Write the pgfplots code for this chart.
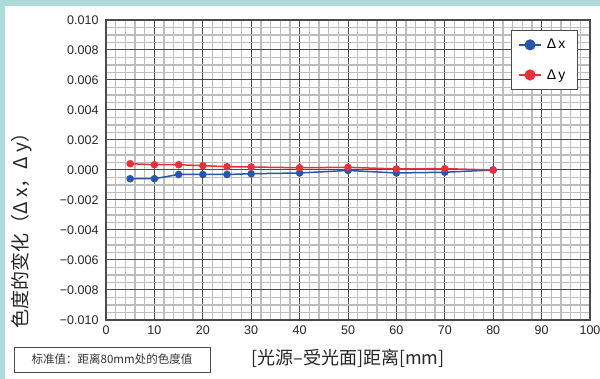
\documentclass[border=0pt]{standalone}
\usepackage{pgfplots}
\pgfplotsset{compat=1.18}
\usepackage{fontspec}
\setmainfont{Liberation Sans}
\newfontfamily\cjk{Noto Sans CJK SC}
\definecolor{teal1}{HTML}{ADDCD8}
\definecolor{bl}{HTML}{2857A8}
\definecolor{rd}{HTML}{E8303A}
\definecolor{majg}{HTML}{4A4A4A}
\definecolor{ming}{HTML}{BDBDBD}
\begin{document}
\begin{tikzpicture}
\useasboundingbox (-106pt,-59pt) rectangle (494pt,320pt);
\fill[white] (-106pt,-59pt) rectangle (494pt,320pt);
\fill[teal1] (-106pt,-59pt) rectangle (-101pt,320pt);
\fill[teal1] (-106pt,314pt) rectangle (494pt,320pt);
\begin{axis}[
  at={(0pt,0pt)}, anchor=south west,
  scale only axis, width=484pt, height=300pt,
  xmin=0, xmax=100, ymin=-0.01, ymax=0.01,
  xtick={0,10,...,100},
  ytick={-0.01,-0.008,-0.006,-0.004,-0.002,0,0.002,0.004,0.006,0.008,0.01},
  yticklabels={−0.010,−0.008,−0.006,−0.004,−0.002,0.000,0.002,0.004,0.006,0.008,0.010},
  scaled y ticks=false,
  minor x tick num=4, minor y tick num=3,
  grid=both,
  major grid style={draw=majg, line width=1pt},
  minor grid style={draw=ming, line width=1.3pt},
  major tick length=0pt, minor tick length=0pt,
  axis line style={draw=majg, line width=1.3pt},
  tick label style={font=\fontsize{12.5}{14}\selectfont, text=black!85},
  /pgf/number format/assume math mode=true,
  yticklabel style={xshift=-4pt},
  xticklabel style={yshift=-2pt},
  legend style={at={(0.975,0.967)}, anchor=north east, draw=majg, line width=0.8pt,
    font=\fontsize{14}{16}\selectfont, row sep=15pt, inner xsep=7pt, inner ysep=7pt,
    nodes={inner xsep=5pt}},
  legend cell align=left,
  legend image code/.code={\draw[#1,mark=none] (0pt,0pt) -- (22pt,0pt);
    \draw[#1,mark size=4.8pt] plot coordinates {(11pt,0pt)};},
]
\addplot[bl, line width=1.5pt, mark=*, mark size=3pt, mark options={fill=bl}] coordinates {
(5,-0.00058)(10,-0.00058)(15,-0.0003)(20,-0.0003)(25,-0.0003)(30,-0.00025)(40,-0.0002)(50,-0.00003)(60,-0.0002)(70,-0.00015)(80,0)};
\addlegendentry{Δ\,x}
\addplot[rd, line width=1.5pt, mark=*, mark size=3pt, mark options={fill=rd}] coordinates {
(5,0.00042)(10,0.00035)(15,0.00035)(20,0.00029)(25,0.00022)(30,0.0002)(40,0.00015)(50,0.00018)(60,0.00007)(70,0.00009)(80,0)};
\addlegendentry{Δ\,y}
\end{axis}
\node[rotate=90, font=\cjk\fontsize{19}{22}\selectfont, text=black!85] at (-84pt,94pt) {色度的变化（Δ x，Δ y）};
\node[font=\cjk\fontsize{18}{21}\selectfont, text=black!85] at (242pt,-38pt) {[光源–受光面]距离[mm]};
\node[draw=majg, line width=0.8pt, minimum width=196pt, minimum height=25pt, inner sep=0pt,
  font=\cjk\fontsize{11.5}{13}\selectfont, text=black!80] at (6pt,-39.5pt) {标准值：距离80mm处的色度值};
\end{tikzpicture}
\end{document}
